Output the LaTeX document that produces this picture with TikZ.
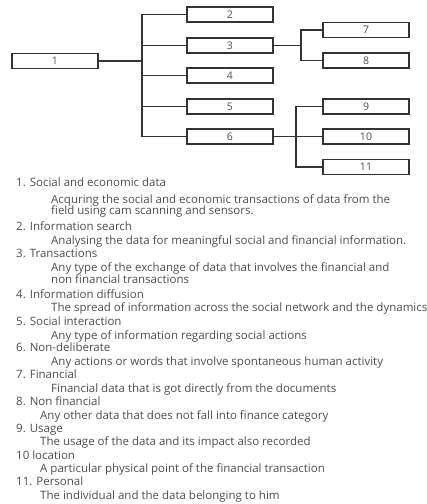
\documentclass[tikz,border=0pt]{standalone}
\usepackage{fontspec}
\setmainfont{Open Sans}
\definecolor{txtgray}{HTML}{4D4D4D}
\definecolor{linegray}{HTML}{333333}
\begin{document}
\begin{tikzpicture}[
    x=1pt, y=-1pt,
    box/.style={draw=linegray, line width=1.4pt, minimum width=86pt, minimum height=15pt,
                inner sep=0pt, font=\fontsize{10.5}{12}\selectfont, text=txtgray},
    conn/.style={draw=linegray, line width=1.2pt},
    head/.style={anchor=base west, inner sep=0pt, font=\fontsize{11.5}{13}\selectfont, text=txtgray},
    desc/.style={head}
]
\useasboundingbox (0,0) rectangle (427,504);

% tree
\node[box] (n1) at (55,61) {1};
\node[box] (n2) at (230,14.5) {2};
\node[box] (n3) at (230,45.5) {3};
\node[box] (n4) at (230,75.5) {4};
\node[box] (n5) at (230,106.5) {5};
\node[box] (n6) at (230,136.5) {6};
\node[box] (n7) at (366,30) {7};
\node[box] (n8) at (366,60.5) {8};
\node[box] (n9) at (366,106.5) {9};
\node[box] (n10) at (366,136.5) {10};
\node[box] (n11) at (366,167) {11};

\coordinate (j1) at (142,61);
\coordinate (j3) at (301,45.5);
\coordinate (j6) at (296,136.5);

\draw[conn] (n1.east) -- (j1);
\draw[conn] (n2.west) -| (j1) |- (n6.west);
\draw[conn] (j1 |- n3) -- (n3.west);
\draw[conn] (j1 |- n4) -- (n4.west);
\draw[conn] (j1 |- n5) -- (n5.west);

\draw[conn] (n3.east) -- (j3);
\draw[conn] (n7.west) -| (j3) |- (n8.west);

\draw[conn] (n6.east) -- (n10.west);
\draw[conn] (n9.west) -| (j6) |- (n11.west);

% legend
\node[head] (h1) at (16,186) {1. Social and economic data};
\node[desc] (d1a) at (51,203.5) {Acquring the social and economic transactions of data from the};
\node[desc] (d1b) at (51,214.5) {field using cam scanning and sensors.};
\node[head] (h2) at (16,230.5) {2. Information search};
\node[desc] (d2) at (51,244.5) {Analysing the data for meaningful social and financial information.};
\node[head] (h3) at (16,257.5) {3. Transactions};
\node[desc] (d3a) at (51,271.5) {Any type of the exchange of data that involves the financial and};
\node[desc] (d3b) at (51,283.5) {non financial transactions};
\node[head] (h4) at (16,298.5) {4. Information diffusion};
\node[desc] (d4) at (51,311.5) {The spread of information across the social network and the dynamics};
\node[head] (h5) at (16,325.5) {5. Social interaction};
\node[desc] (d5) at (51,339) {Any type of information regarding social actions};
\node[head] (h6) at (16,351.5) {6. Non-deliberate};
\node[desc] (d6) at (51,365.5) {Any actions or words that involve spontaneous human activity};
\node[head] (h7) at (16,378.5) {7. Financial};
\node[desc] (d7) at (51,392.5) {Financial data that is got directly from the documents};
\node[head] (h8) at (16,405.5) {8. Non financial};
\node[desc] (d8) at (40,419.5) {Any other data that does not fall into finance category};
\node[head] (h9) at (16,432.5) {9. Usage};
\node[desc] (d9) at (40,445.5) {The usage of the data and its impact also recorded};
\node[head] (h10) at (16,459.5) {10 location};
\node[desc] (d10) at (40,472.5) {A particular physical point of the financial transaction};
\node[head] (h11) at (16,485.5) {11. Personal};
\node[desc] (d11) at (40,499) {The individual and the data belonging to him};

\end{tikzpicture}
\end{document}
